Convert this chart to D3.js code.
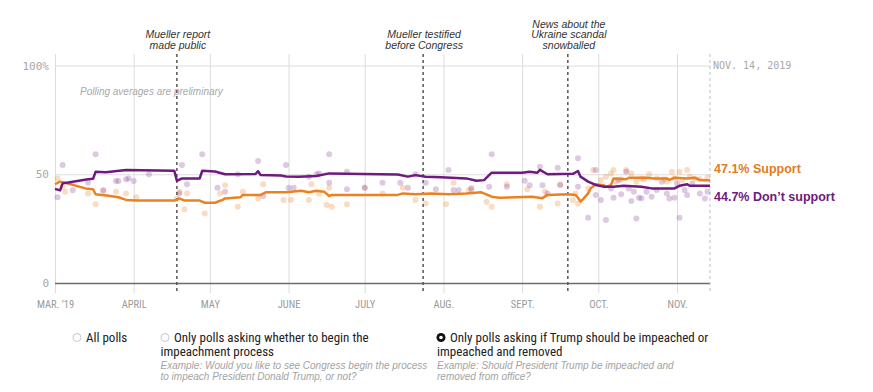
<!DOCTYPE html>
<html><head><meta charset="utf-8">
<script src="https://cdn.jsdelivr.net/npm/d3@7"></script>
<style>body{margin:0;background:#fff;} svg{display:block;}</style>
</head><body>
<svg id="chart" width="873" height="392"></svg>
<script>
// ---------- data ----------
const monthTicks = ["2019-03-01","2019-04-01","2019-05-01","2019-06-01","2019-07-01","2019-08-01","2019-09-01","2019-10-01","2019-11-01"];
const monthLabels = ["MAR. ’19","APRIL","MAY","JUNE","JULY","AUG.","SEPT.","OCT.","NOV."];
const yTicks = [0, 50, 100];
const yTickLabels = ["0", "50", "100%"];
const startDate = "2019-03-01";
const endDate = "2019-11-14";
const endLabel = "NOV. 14, 2019";

const supportAvg = [["2019-03-01",45.4],["2019-03-03",46.6],["2019-03-05",46.1],["2019-03-13",43.5],["2019-03-16",43.1],["2019-03-17",40.8],["2019-03-22",40.1],["2019-03-26",39.4],["2019-03-29",38.2],["2019-04-02",37.9],["2019-04-17",37.9],["2019-04-19",38.9],["2019-04-21",37.9],["2019-04-27",37.9],["2019-04-29",36.9],["2019-05-03",36.9],["2019-05-06",38.2],["2019-05-07",38.9],["2019-05-13",39.4],["2019-05-14",40.5],["2019-05-21",40.5],["2019-05-23",41.7],["2019-05-31",41.7],["2019-06-06",42.4],["2019-06-09",41.7],["2019-06-12",42.4],["2019-06-15",42.0],["2019-06-17",40.0],["2019-06-18",40.5],["2019-07-14",40.5],["2019-07-16",41.2],["2019-07-21",40.8],["2019-07-27",41.2],["2019-08-03",40.8],["2019-08-10",41.2],["2019-08-16",41.7],["2019-08-20",39.7],["2019-08-23",39.2],["2019-09-05",39.7],["2019-09-09",39.0],["2019-09-11",40.5],["2019-09-19",40.8],["2019-09-22",40.5],["2019-09-23",39.2],["2019-09-24",37.4],["2019-09-25",38.6],["2019-09-27",41.2],["2019-09-28",43.5],["2019-09-30",45.4],["2019-10-03",45.0],["2019-10-04",44.3],["2019-10-06",45.0],["2019-10-07",48.1],["2019-10-12",47.7],["2019-10-13",48.4],["2019-10-20",48.4],["2019-10-23",48.1],["2019-10-28",48.1],["2019-10-29",47.4],["2019-10-31",48.4],["2019-11-05",48.1],["2019-11-08",48.4],["2019-11-10",47.4],["2019-11-14",47.1]];

const opposeAvg = [["2019-03-01",43.3],["2019-03-03",42.6],["2019-03-04",45.8],["2019-03-08",46.6],["2019-03-14",47.7],["2019-03-16",47.9],["2019-03-17",51.2],["2019-03-21",50.9],["2019-03-29",52.0],["2019-04-17",51.6],["2019-04-18",47.0],["2019-04-20",48.1],["2019-04-27",48.1],["2019-04-28",51.6],["2019-05-03",51.3],["2019-05-07",50.0],["2019-05-19",50.1],["2019-05-20",51.4],["2019-05-21",49.6],["2019-05-29",49.4],["2019-05-31",49.0],["2019-06-05",48.9],["2019-06-12",49.2],["2019-06-17",50.4],["2019-07-14",49.9],["2019-07-18",48.9],["2019-07-21",49.6],["2019-07-25",48.9],["2019-07-31",48.6],["2019-08-10",48.1],["2019-08-14",47.0],["2019-08-17",47.3],["2019-08-20",50.7],["2019-09-01",50.7],["2019-09-04",51.2],["2019-09-07",50.7],["2019-09-08",52.0],["2019-09-11",50.0],["2019-09-21",50.2],["2019-09-23",51.5],["2019-09-24",48.9],["2019-09-27",46.6],["2019-09-30",45.1],["2019-10-03",44.3],["2019-10-07",44.3],["2019-10-11",44.7],["2019-10-18",44.3],["2019-10-22",43.5],["2019-10-31",43.5],["2019-11-02",44.7],["2019-11-05",45.4],["2019-11-06",44.7],["2019-11-14",44.7]];

const supportPolls = [["2019-03-02",48.1],["2019-03-04",44.3],["2019-03-05",42.0],["2019-03-14",41.2],["2019-03-17",36.2],["2019-03-20",42.8],["2019-03-25",42.0],["2019-03-29",41.2],["2019-04-02",39.4],["2019-04-18",38.9],["2019-04-19",42.0],["2019-04-21",33.9],["2019-04-22",41.2],["2019-04-29",32.0],["2019-05-05",41.2],["2019-05-07",45.0],["2019-05-12",35.1],["2019-05-14",42.0],["2019-05-20",38.9],["2019-05-22",45.4],["2019-05-30",38.2],["2019-06-02",38.2],["2019-06-09",38.2],["2019-06-10",45.4],["2019-06-13",41.2],["2019-06-16",35.9],["2019-06-17",43.8],["2019-06-18",35.1],["2019-06-24",36.2],["2019-07-01",43.8],["2019-07-08",41.2],["2019-07-16",43.8],["2019-07-21",38.2],["2019-07-25",36.6],["2019-08-02",36.2],["2019-08-05",46.1],["2019-08-11",42.8],["2019-08-12",43.8],["2019-08-18",37.4],["2019-08-20",35.1],["2019-08-26",45.4],["2019-09-03",43.1],["2019-09-08",35.1],["2019-09-10",42.0],["2019-09-15",36.6],["2019-09-16",45.4],["2019-09-21",38.2],["2019-09-22",41.2],["2019-09-23",36.6],["2019-09-27",43.5],["2019-09-29",52.0],["2019-10-02",47.4],["2019-10-04",48.9],["2019-10-06",50.4],["2019-10-07",52.0],["2019-10-08",46.6],["2019-10-10",47.7],["2019-10-12",52.0],["2019-10-14",50.4],["2019-10-16",46.6],["2019-10-18",48.1],["2019-10-19",47.7],["2019-10-21",50.0],["2019-10-24",48.1],["2019-10-27",47.7],["2019-10-28",46.6],["2019-10-30",51.2],["2019-10-31",48.1],["2019-11-02",51.2],["2019-11-03",47.4],["2019-11-05",52.0],["2019-11-06",48.9],["2019-11-08",48.1],["2019-11-10",47.7],["2019-11-13",48.4]];

const opposePolls = [["2019-03-02",39.4],["2019-03-04",54.3],["2019-03-08",42.6],["2019-03-14",46.1],["2019-03-17",59.2],["2019-03-20",42.4],["2019-03-25",46.9],["2019-03-26",46.9],["2019-03-29",47.7],["2019-03-30",48.0],["2019-04-01",46.9],["2019-04-07",50.0],["2019-04-19",41.2],["2019-04-20",54.3],["2019-04-22",45.4],["2019-04-28",59.2],["2019-05-04",43.8],["2019-05-07",42.0],["2019-05-12",50.0],["2019-05-20",56.1],["2019-05-22",40.0],["2019-05-31",54.3],["2019-06-01",43.8],["2019-06-03",43.8],["2019-06-09",48.9],["2019-06-12",50.0],["2019-06-13",50.4],["2019-06-17",59.2],["2019-06-17",46.1],["2019-06-24",51.2],["2019-06-24",43.1],["2019-07-01",43.8],["2019-07-08",46.1],["2019-07-15",46.1],["2019-07-18",43.8],["2019-07-21",50.0],["2019-07-25",46.1],["2019-07-29",43.1],["2019-08-03",52.0],["2019-08-05",42.8],["2019-08-07",42.8],["2019-08-12",43.1],["2019-08-19",44.3],["2019-08-20",59.2],["2019-08-26",44.3],["2019-09-02",47.0],["2019-09-04",45.0],["2019-09-08",53.5],["2019-09-09",45.0],["2019-09-11",41.2],["2019-09-15",53.0],["2019-09-16",45.0],["2019-09-23",57.3],["2019-09-23",44.3],["2019-09-27",30.0],["2019-09-30",52.0],["2019-09-30",40.5],["2019-10-02",38.2],["2019-10-04",29.0],["2019-10-06",43.5],["2019-10-07",39.2],["2019-10-09",47.4],["2019-10-10",40.8],["2019-10-12",51.2],["2019-10-13",43.5],["2019-10-14",37.7],["2019-10-15",42.0],["2019-10-16",29.7],["2019-10-17",39.2],["2019-10-18",39.0],["2019-10-20",42.0],["2019-10-22",39.7],["2019-10-24",42.8],["2019-10-26",46.6],["2019-10-28",41.2],["2019-10-29",38.9],["2019-10-31",39.2],["2019-11-01",45.8],["2019-11-02",30.0],["2019-11-04",42.8],["2019-11-05",40.5],["2019-11-07",45.8],["2019-11-10",41.2],["2019-11-12",38.9],["2019-11-13",42.0]];

const eventDates = ["2019-04-18", "2019-07-24", "2019-09-19"];
const eventLabels = [["Mueller report","made public"],["Mueller testified","before Congress"],["News about the","Ukraine scandal","snowballed"]];

const seriesNames = ["Support", "Don’t support"];
const finalValues = [47.1, 44.7];

const legendOptions = [
  {label:["All polls"], example:[], selected:false},
  {label:["Only polls asking whether to begin the","impeachment process"], example:["Example: Would you like to see Congress begin the process","to impeach President Donald Trump, or not?"], selected:false},
  {label:["Only polls asking if Trump should be impeached or","impeached and removed"], example:["Example: Should President Trump be impeached and","removed from office?"], selected:true}
];
const noteText = "Polling averages are preliminary";

// ---------- drawing ----------
const parse = d3.timeParse("%Y-%m-%d");
const ORANGE = "#ec8123", PURPLE = "#6e1a7e";
const svg = d3.select("#chart");
const condensed = "'Liberation Sans Narrow','Roboto Condensed','Arial Narrow',sans-serif";
const mono = "'DejaVu Sans Mono','Liberation Mono',monospace";
const sans = "'Liberation Sans',Arial,sans-serif";

const x = d3.scaleTime().domain([parse(startDate), parse(endDate)]).range([55, 710]);
const y = d3.scaleLinear().domain([0, 100]).range([283, 65.5]);
const gridTop = 54, gridBottom = 293;

// vertical month gridlines
const gx = svg.append("g").attr("transform", `translate(0,${gridBottom})`)
  .call(d3.axisBottom(x).tickValues(monthTicks.map(parse)).tickSize(-(gridBottom - gridTop)).tickFormat(""));
gx.select(".domain").remove();
gx.selectAll("line").attr("stroke", "#dcdcdc").attr("stroke-width", 1);

// horizontal gridlines + y labels
const gy = svg.append("g").attr("transform", "translate(55,0)")
  .call(d3.axisLeft(y).tickValues(yTicks).tickSize(-(710 - 55)).tickPadding(6).tickFormat((d, i) => yTickLabels[i]));
gy.select(".domain").remove();
gy.selectAll("line").attr("stroke", d => d === 0 ? "#6b6b6b" : "#dcdcdc").attr("stroke-width", d => d === 0 ? 1.5 : 1);
gy.selectAll("text").attr("font-family", mono).attr("font-size", 11).attr("fill", "#a8a8a8");

// month labels
const gxl = svg.append("g").attr("transform", `translate(0,${y(0)})`)
  .call(d3.axisBottom(x).tickValues(monthTicks.map(parse)).tickSize(0).tickFormat((d, i) => monthLabels[i]));
gxl.select(".domain").remove();
gxl.selectAll("text").attr("y", 21).attr("dy", "0.35em")
  .attr("font-family", condensed).attr("font-size", 10.5).attr("fill", "#9a9a9a");

// end date line
svg.append("line").attr("x1", x(parse(endDate))).attr("x2", x(parse(endDate)))
  .attr("y1", gridTop).attr("y2", gridBottom).attr("stroke", "#bdbdbd").attr("stroke-width", 1).attr("stroke-dasharray", "3,3");
svg.append("text").attr("x", x(parse(endDate)) + 3).attr("y", y(100)).attr("dy", "0.35em")
  .attr("font-family", mono).attr("font-size", 10).attr("fill", "#a8a8a8").text(endLabel);

// note
svg.append("text").attr("x", 80).attr("y", 94.5).attr("font-family", sans).attr("font-style", "italic")
  .attr("font-size", 10).attr("fill", "#a9a9a9").text(noteText);

// poll dots
const dots = svg.append("g");
dots.selectAll(".sp").data(supportPolls).join("circle")
  .attr("cx", d => x(parse(d[0]))).attr("cy", d => y(d[1])).attr("r", 3)
  .attr("fill", ORANGE).attr("fill-opacity", 0.28);
dots.selectAll(".op").data(opposePolls).join("circle")
  .attr("cx", d => x(parse(d[0]))).attr("cy", d => y(d[1])).attr("r", 3)
  .attr("fill", "#8a3c99").attr("fill-opacity", 0.28);

// event lines and labels
eventDates.forEach((ds, i) => {
  const ex = x(parse(ds));
  svg.append("line").attr("x1", ex).attr("x2", ex).attr("y1", gridTop).attr("y2", gridBottom)
    .attr("stroke", "#555").attr("stroke-width", 1.5).attr("stroke-dasharray", "3,3");
  const lines = eventLabels[i];
  const lastBase = 48.5;
  lines.forEach((t, j) => {
    svg.append("text").attr("x", ex + 1).attr("y", lastBase - (lines.length - 1 - j) * 10.5)
      .attr("text-anchor", "middle").attr("font-family", sans).attr("font-style", "italic")
      .attr("font-size", 10.5).attr("fill", "#333").text(t);
  });
});

// average lines
const line = d3.line().x(d => x(parse(d[0]))).y(d => y(d[1]));
svg.append("path").datum(supportAvg).attr("d", line).attr("fill", "none")
  .attr("stroke", ORANGE).attr("stroke-width", 2.5).attr("stroke-linejoin", "round");
svg.append("path").datum(opposeAvg).attr("d", line).attr("fill", "none")
  .attr("stroke", PURPLE).attr("stroke-width", 2.5).attr("stroke-linejoin", "round");

// end labels
const labelY = [172.5, 201];
[ORANGE, PURPLE].forEach((c, i) => {
  svg.append("text").attr("x", 714).attr("y", labelY[i]).attr("font-family", sans)
    .attr("font-weight", "bold").attr("font-size", 12.5).attr("fill", i === 0 ? "#e07d22" : PURPLE)
    .text(finalValues[i].toFixed(1) + "% " + seriesNames[i]);
});

// legend
const legendX = [77, 165, 441];
const textX = [86, 174, 450];
const contX = [86, 160.5, 437];
legendOptions.forEach((o, i) => {
  const g = svg.append("g");
  if (o.selected) {
    g.append("circle").attr("cx", legendX[i]).attr("cy", 337.5).attr("r", 4.5).attr("fill", "#111");
    g.append("circle").attr("cx", legendX[i]).attr("cy", 337.5).attr("r", 1.8).attr("fill", "#fff");
  } else {
    g.append("circle").attr("cx", legendX[i]).attr("cy", 337.5).attr("r", 4).attr("fill", "#fff")
      .attr("stroke", "#c8c8c8").attr("stroke-width", 1);
  }
  o.label.forEach((t, j) => {
    g.append("text").attr("x", j === 0 ? textX[i] : contX[i]).attr("y", 342 + j * 13.5)
      .attr("font-family", condensed).attr("font-size", 13).attr("fill", "#222").text(t);
  });
  o.example.forEach((t, j) => {
    g.append("text").attr("x", contX[i]).attr("y", 368.5 + j * 11.5)
      .attr("font-family", sans).attr("font-style", "italic").attr("font-size", 10).attr("fill", "#a3a3a3").text(t);
  });
});
</script>
</body></html>
